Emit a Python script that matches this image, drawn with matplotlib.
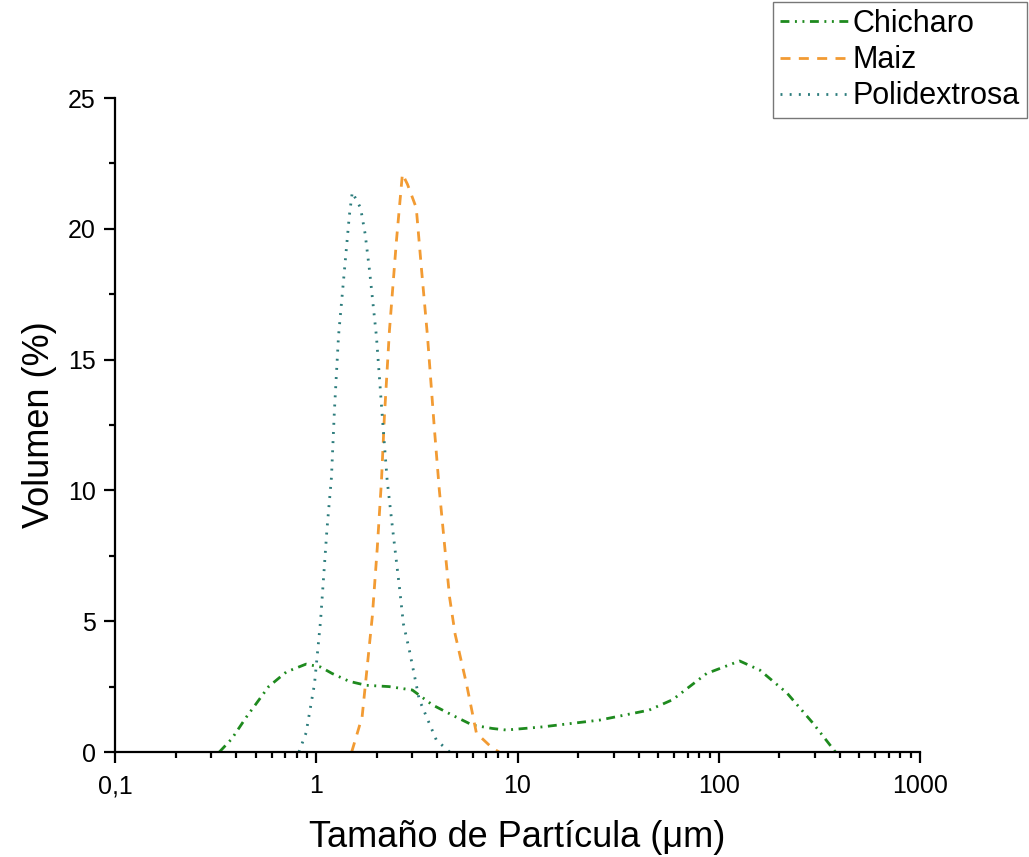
import matplotlib
matplotlib.use("Agg")
import matplotlib.pyplot as plt
from matplotlib.ticker import FixedLocator, FixedFormatter, LogLocator, NullFormatter, MultipleLocator

plt.rcParams["font.family"] = ["Liberation Sans", "DejaVu Sans"]

# ── data (particle size in um, volume %) ────────────────────────────────────
chicharo_x = [0.33, 0.38, 0.45, 0.52, 0.58, 0.71, 0.89, 1.05, 1.2, 1.46, 1.77,
              2.3, 3.0, 3.78, 4.74, 5.97, 7.5, 8.8, 13.3, 25.6, 45, 59, 87,
              127, 160, 218, 294, 380]
chicharo_y = [0.0, 0.5, 1.34, 2.0, 2.5, 3.06, 3.36, 3.25, 3.0, 2.7, 2.55,
              2.5, 2.37, 1.8, 1.41, 1.03, 0.9, 0.84, 0.96, 1.22, 1.6, 2.0, 3.0,
              3.48, 3.13, 2.26, 1.1, 0.0]

maiz_x = [1.5, 1.69, 1.9, 2.01, 2.11, 2.18, 2.31, 2.5, 2.68, 2.84, 3.14, 3.33,
          3.57, 3.86, 4.09, 4.33, 4.6, 4.9, 5.58, 6.25, 7.5, 8.1]
maiz_y = [0.0, 1.34, 5.2, 7.8, 10.4, 12.8, 16.1, 19.5, 22.1, 21.7, 20.8, 18.5,
          15.9, 12.4, 10.0, 8.0, 5.9, 4.5, 2.6, 0.72, 0.15, 0.0]

poli_x = [0.82, 0.89, 0.98, 1.05, 1.13, 1.19, 1.23, 1.29, 1.38, 1.46, 1.51,
          1.66, 1.75, 1.84, 1.99, 2.13, 2.25, 2.39, 2.59, 2.71, 2.9, 3.25,
          3.95, 4.6]
poli_y = [0.0, 0.73, 2.6, 5.0, 8.5, 10.5, 13.0, 15.9, 18.4, 20.5, 21.4,
          20.8, 19.8, 18.4, 15.9, 12.8, 10.4, 8.6, 6.3, 4.9, 3.9, 2.0,
          0.46, 0.0]

x_ticks = [0.1, 1, 10, 100, 1000]
x_tick_labels = ["0,1", "1", "10", "100", "1000"]

fig = plt.figure(figsize=(10.29, 8.57), dpi=100)
ax = fig.add_axes([115 / 1029, 1 - 752 / 857, (920 - 115) / 1029, (752 - 98) / 857])

lw = 2.0
ax.plot(chicharo_x, chicharo_y, color="#1e8a1e", lw=lw,
        linestyle=(0, (3.2, 2.0, 0.7, 2.0, 0.7, 2.0)), label="Chicharo")
ax.plot(maiz_x, maiz_y, color="#f29b33", lw=lw,
        linestyle=(0, (3.6, 3.0)), label="Maiz")
ax.plot(poli_x, poli_y, color="#2c7c7c", lw=lw,
        linestyle=(0, (0.7, 2.6)), label="Polidextrosa")

ax.set_xscale("log")
ax.set_xlim(0.1, 1000)
ax.set_ylim(0, 25)
ax.xaxis.set_major_locator(FixedLocator(x_ticks))
ax.xaxis.set_major_formatter(FixedFormatter(x_tick_labels))
ax.xaxis.set_minor_locator(LogLocator(base=10, subs=range(2, 10)))
ax.xaxis.set_minor_formatter(NullFormatter())
ax.yaxis.set_major_locator(MultipleLocator(5))
ax.yaxis.set_minor_locator(MultipleLocator(2.5))

for s in ("top", "right"):
    ax.spines[s].set_visible(False)
for s in ("left", "bottom"):
    ax.spines[s].set_linewidth(1.6)

ax.tick_params(which="major", direction="out", length=8, width=1.6,
               labelsize=18, pad=6)
ax.tick_params(which="minor", direction="out", length=4.5, width=1.6)
ax.tick_params(axis="x", which="major", pad=8)

ax.set_xlabel("Tamaño de Partícula (μm)", fontsize=26, labelpad=16)
ax.set_ylabel("Volumen (%)", fontsize=26, labelpad=8)

leg = fig.legend(loc="upper right", bbox_to_anchor=(0.9995, 0.999),
                 fontsize=22, frameon=True, fancybox=False, handlelength=2.25,
                 handletextpad=0.15, borderpad=0.22, labelspacing=0.2,
                 borderaxespad=0.05)
leg.get_frame().set_edgecolor("#555555")
leg.get_frame().set_linewidth(1.0)

fig.savefig("out.png", dpi=100)
